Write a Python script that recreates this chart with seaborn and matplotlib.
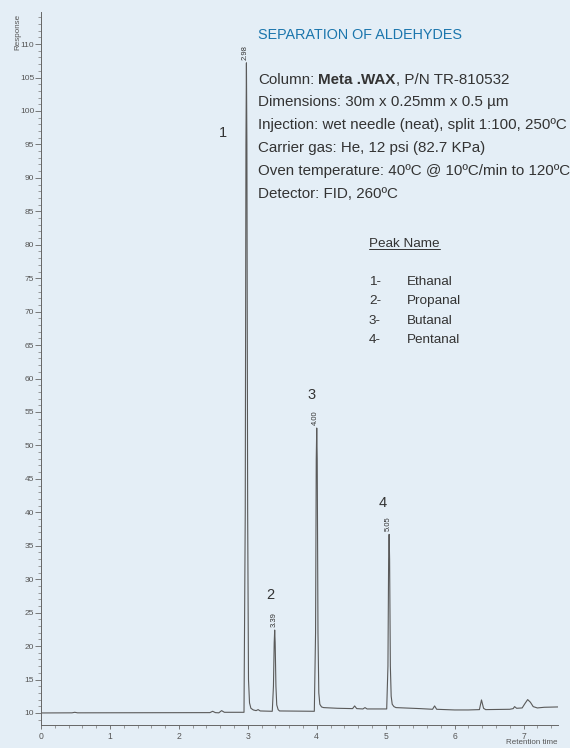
import matplotlib
matplotlib.use("Agg")
import numpy as np
import pandas as pd
import matplotlib.pyplot as plt
import seaborn as sns
from matplotlib.ticker import MultipleLocator
from matplotlib.lines import Line2D

# ---------------- data ----------------
trace_time = [0.00, 0.45, 0.49, 0.53, 2.45, 2.49, 2.53, 2.58, 2.62, 2.66, 2.945,
              2.963, 2.973, 2.98, 2.987, 2.998, 3.01, 3.025, 3.045, 3.08, 3.12,
              3.15, 3.18, 3.355, 3.372, 3.383, 3.39, 3.397, 3.408, 3.42, 3.44,
              3.46, 3.965, 3.983, 3.993, 4.00, 4.007, 4.018, 4.03, 4.045, 4.07,
              4.10, 4.30, 4.52, 4.55, 4.58, 4.67, 4.70, 4.73, 5.015, 5.033,
              5.043, 5.05, 5.057, 5.068, 5.08, 5.095, 5.12, 5.15, 5.50, 5.68,
              5.71, 5.74, 6.00, 6.20, 6.36, 6.39, 6.42, 6.45, 6.80, 6.85,
              6.87, 6.90, 6.98, 7.02, 7.06, 7.10, 7.14, 7.20, 7.30, 7.50]
trace_response = [10.00, 10.02, 10.10, 10.02, 10.05, 10.25, 10.05, 10.02, 10.35, 10.10, 10.10,
                  40.0, 95.0, 107.2, 95.0, 40.0, 15.0, 11.5, 10.7, 10.45, 10.35,
                  10.50, 10.30, 10.25, 14.0, 20.5, 22.4, 20.5, 14.0, 11.2, 10.5,
                  10.30, 10.25, 22.0, 48.0, 52.6, 48.0, 22.0, 13.0, 11.3, 10.9,
                  10.80, 10.70, 10.65, 11.05, 10.65, 10.60, 10.80, 10.60, 10.60, 17.0,
                  33.0, 36.7, 33.0, 17.0, 12.5, 11.3, 10.95, 10.80, 10.65, 10.55,
                  11.05, 10.55, 10.45, 10.45, 10.50, 11.95, 10.70, 10.50, 10.55, 10.65,
                  10.95, 10.70, 10.75, 11.40, 12.00, 11.60, 10.95, 10.75, 10.85, 10.90]

peak_number = ["1", "2", "3", "4"]
peak_rt = [2.98, 3.39, 4.00, 5.05]
peak_apex = [107.2, 22.4, 52.6, 36.7]
peak_rt_label = ["2.98", "3.39", "4.00", "5.05"]
compound = ["Ethanal", "Propanal", "Butanal", "Pentanal"]

x_ticks = [0, 1, 2, 3, 4, 5, 6, 7]
y_ticks = list(range(10, 111, 5))

title = "SEPARATION OF ALDEHYDES"
conditions = [
    "Dimensions: 30m x 0.25mm x 0.5 \u00b5m",
    "Injection: wet needle (neat), split 1:100, 250\u00baC",
    "Carrier gas: He, 12 psi (82.7 KPa)",
    "Oven temperature: 40\u00baC @ 10\u00baC/min to 120\u00baC",
    "Detector: FID, 260\u00baC",
]

# ---------------- style ----------------
W, H = 570, 748
BG = "#e4eef6"
LINE = "#5a5a5a"
TXT = "#333333"
TICK = "#555555"

sns.set_style("ticks")
plt.rcParams["font.family"] = ["Liberation Sans", "DejaVu Sans"]

def fx(px):
    return px / W

def fy(py):
    return 1 - py / H

fig = plt.figure(figsize=(W / 100, H / 100), dpi=100, facecolor=BG)
ax = fig.add_axes([fx(41), fy(725), 517 / W, 713 / H])
ax.set_facecolor(BG)

df = pd.DataFrame({"Retention time": trace_time, "Response": trace_response})
sns.lineplot(data=df, x="Retention time", y="Response", ax=ax, color=LINE,
             linewidth=0.8, estimator=None, sort=False)

ax.set_xlim(0, 7.5)
ax.set_ylim(8.2, 114.8)
ax.set_xlabel("")
ax.set_ylabel("")
for s in ["top", "right"]:
    ax.spines[s].set_visible(False)
for s in ["left", "bottom"]:
    ax.spines[s].set_color("#666666")
    ax.spines[s].set_linewidth(0.7)

ax.set_xticks(x_ticks)
ax.set_xticklabels([str(v) for v in x_ticks])
ax.set_yticks(y_ticks)
ax.set_yticklabels([str(v) for v in y_ticks])
ax.xaxis.set_minor_locator(MultipleLocator(0.2))
ax.yaxis.set_minor_locator(MultipleLocator(1))
ax.tick_params(axis="y", which="major", direction="out", length=4.2, width=0.6,
               color="#666666", labelcolor=TICK, labelsize=6.0, pad=0.6)
ax.tick_params(axis="y", which="minor", direction="out", length=2.4, width=0.5,
               color="#777777")
ax.tick_params(axis="x", which="major", direction="out", length=3.0, width=0.6,
               color="#666666", labelcolor=TICK, labelsize=6.2, pad=1.8)
ax.tick_params(axis="x", which="minor", direction="out", length=1.8, width=0.5,
               color="#777777")

fig.text(fx(18), fy(32), "Response", rotation=90, ha="center", va="center",
         fontsize=5.8, color=TICK)
fig.text(fx(532), fy(743), "Retention time", ha="center", va="center",
         fontsize=5.8, color=TICK)

# peak annotations
num_offsets = [(-23, -70), (-4.7, 35), (-5, 33), (-6, 31.4)]
for num, rt, ap, lab, off in zip(peak_number, peak_rt, peak_apex, peak_rt_label, num_offsets):
    ax.annotate(lab, xy=(rt, ap), xytext=(-1, 3), textcoords="offset pixels",
                rotation=90, ha="center", va="bottom", fontsize=5.5, color=TXT)
    ax.annotate(num, xy=(rt, ap), xytext=off, textcoords="offset pixels",
                ha="center", va="center", fontsize=10.5, color=TXT)

# title & conditions
fig.text(fx(258), fy(39), title, ha="left", va="baseline", fontsize=10.4,
         color="#1b76ad")

fig.canvas.draw()
r = fig.canvas.get_renderer()
FS = 10.9

def width_px(s, **kw):
    t = fig.text(0, 0, s, fontsize=FS, **kw)
    w = t.get_window_extent(r).width
    t.remove()
    return w

space = width_px("x x") - width_px("xx")
y0 = 83.5
t1 = fig.text(fx(258), fy(y0), "Column:", ha="left", va="baseline", fontsize=FS, color=TXT)
b1 = t1.get_window_extent(r)
t2 = fig.text((b1.x1 + space) / W, fy(y0), "Meta .WAX", ha="left", va="baseline",
              fontsize=FS, color=TXT, fontweight="bold")
b2 = t2.get_window_extent(r)
fig.text(b2.x1 / W, fy(y0), ", P/N TR-810532", ha="left", va="baseline",
         fontsize=FS, color=TXT)
for i, line in enumerate(conditions):
    fig.text(fx(258), fy(y0 + 22.8 * (i + 1)), line, ha="left", va="baseline",
             fontsize=FS, color=TXT)

# peak name table
PFS = 9.7
tp = fig.text(fx(369), fy(247), "Peak Name", ha="left", va="baseline", fontsize=PFS,
              color=TXT)
bp = tp.get_window_extent(r)
fig.add_artist(Line2D([bp.x0 / W, bp.x1 / W], [fy(249.5), fy(249.5)], color=TXT,
                      linewidth=0.7))
for i, (num, name) in enumerate(zip(peak_number, compound)):
    yb = 285 + 19.4 * i
    fig.text(fx(369), fy(yb), f"{num}-", ha="left", va="baseline", fontsize=PFS,
             color=TXT)
    fig.text(fx(407), fy(yb), name, ha="left", va="baseline", fontsize=PFS,
             color=TXT)

fig.savefig("out.png", dpi=100, facecolor=BG)
